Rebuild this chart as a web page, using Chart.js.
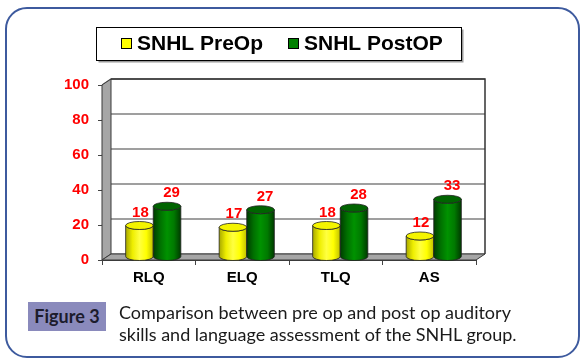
<!DOCTYPE html>
<html>
<head>
<meta charset="utf-8">
<script src="https://cdn.jsdelivr.net/npm/chart.js@4.4.1/dist/chart.umd.min.js"></script>
<style>
  html, body { margin: 0; padding: 0; background: #fff; }
  #wrap { position: relative; width: 587px; height: 363px; overflow: hidden; }
  #frame {
    position: absolute; left: 5px; top: 7px; width: 571px; height: 347px;
    border: 2px solid #3d5a9e; border-radius: 22px;
  }
  #chart { position: absolute; left: 0; top: 0; }
  #figLabel {
    position: absolute; left: 28px; top: 302px; width: 78px; height: 29px;
    background: #8a8abc; color: #1c1c2c;
    font: bold 18px Lato, "Open Sans", sans-serif;
    line-height: 29px; text-align: center;
  }
  #caption {
    position: absolute; left: 119px; top: 301px; width: 440px;
    font: 18px Lato, "Open Sans", sans-serif; line-height: 22px; color: #1a1a1a;
  }
</style>
</head>
<body>
<div id="wrap">
  <div id="frame"></div>
  <canvas id="chart" width="587" height="363"></canvas>
  <div id="figLabel">Figure 3</div>
  <div id="caption">Comparison between pre op and post op auditory<br>skills and language assessment of the SNHL group.</div>
</div>
<script>
const categories = ['RLQ', 'ELQ', 'TLQ', 'AS'];
const preOp = [18, 17, 18, 12];
const postOp = [29, 27, 28, 33];
const seriesNames = ['SNHL PreOp', 'SNHL PostOP'];
const yMin = 0;
const yMax = 100;
const yStep = 20;

// depth of the 3d box
const DX = 9, DY = -6;

const seriesStyle = [
  { face: ['#a8a800', '#eeee00', '#ffff40', '#ffff00', '#c0c000'], top: '#f4f400', key: '#ffff00', labelShift: 1 },
  { face: ['#003c00', '#007000', '#009200', '#007a00', '#003a00'], top: '#006400', key: '#008000', labelShift: 4.5 }
];

const room = {
  id: 'room',
  beforeDatasetsDraw(chart) {
    const { ctx, chartArea: a, scales: { y } } = chart;
    ctx.save();
    // back wall
    ctx.fillStyle = '#fff';
    ctx.fillRect(a.left + DX, a.top + DY, a.right - a.left, a.bottom - a.top);
    // grid lines on back wall and left wall
    ctx.strokeStyle = '#808080';
    ctx.lineWidth = 1.5;
    y.ticks.forEach(t => {
      const py = y.getPixelForValue(t.value);
      ctx.beginPath();
      ctx.moveTo(a.left, py);
      ctx.lineTo(a.left + DX, py + DY);
      ctx.lineTo(a.right + DX, py + DY);
      ctx.stroke();
    });
    // left wall
    ctx.fillStyle = '#a6a6a6';
    ctx.strokeStyle = '#3a3a3a';
    ctx.lineWidth = 1;
    ctx.beginPath();
    ctx.moveTo(a.left, a.top);
    ctx.lineTo(a.left + DX, a.top + DY);
    ctx.lineTo(a.left + DX, a.bottom + DY);
    ctx.lineTo(a.left, a.bottom);
    ctx.closePath();
    ctx.fill();
    ctx.stroke();
    // floor
    ctx.beginPath();
    ctx.moveTo(a.left, a.bottom);
    ctx.lineTo(a.left + DX, a.bottom + DY);
    ctx.lineTo(a.right + DX, a.bottom + DY);
    ctx.lineTo(a.right, a.bottom);
    ctx.closePath();
    ctx.fill();
    ctx.stroke();
    // back wall outline (top + right)
    ctx.strokeStyle = '#333';
    ctx.lineWidth = 1.5;
    ctx.beginPath();
    ctx.moveTo(a.left + DX, a.top + DY);
    ctx.lineTo(a.right + DX, a.top + DY);
    ctx.lineTo(a.right + DX, a.bottom + DY);
    ctx.stroke();
    ctx.restore();
  },
  afterDatasetsDraw(chart) {
    const { ctx } = chart;
    ctx.save();
    const metas = chart.data.datasets.map((d, i) => chart.getDatasetMeta(i));
    categories.forEach((c, k) => {
      metas.forEach((meta, i) => {
        const bar = meta.data[k];
        const st = seriesStyle[i];
        const cx = bar.x + DX / 2;
        const rx = bar.width / 2;
        const ry = 4;
        const top = bar.y + DY / 2;
        const bot = bar.base + DY / 2;
        const g = ctx.createLinearGradient(cx - rx, 0, cx + rx, 0);
        st.face.forEach((col, j) => g.addColorStop(j / (st.face.length - 1), col));
        ctx.beginPath();
        ctx.moveTo(cx - rx, top);
        ctx.lineTo(cx - rx, bot);
        ctx.ellipse(cx, bot, rx, ry, 0, Math.PI, 0, true);
        ctx.lineTo(cx + rx, top);
        ctx.ellipse(cx, top, rx, ry, 0, 0, Math.PI, false);
        ctx.closePath();
        ctx.fillStyle = g;
        ctx.fill();
        ctx.strokeStyle = '#222';
        ctx.lineWidth = 0.8;
        ctx.stroke();
        ctx.beginPath();
        ctx.ellipse(cx, top, rx, ry, 0, 0, Math.PI * 2);
        ctx.fillStyle = st.top;
        ctx.fill();
        ctx.stroke();
        // value label
        ctx.fillStyle = '#ff0000';
        ctx.font = 'bold 15px Arial, "Liberation Sans", sans-serif';
        ctx.textAlign = 'center';
        ctx.textBaseline = 'middle';
        ctx.fillText(String(chart.data.datasets[i].data[k]), cx + st.labelShift, top - 13);
      });
    });
    ctx.restore();
  },
  afterDraw(chart) {
    const { ctx } = chart;
    ctx.save();
    // legend box with shadow
    ctx.fillStyle = '#9a9a9a';
    ctx.fillRect(98.5, 29.5, 365, 33);
    ctx.fillStyle = '#fff';
    ctx.fillRect(96.5, 27.5, 365, 33);
    ctx.strokeStyle = '#000';
    ctx.lineWidth = 1;
    ctx.strokeRect(96.5, 27.5, 365, 33);
    const keyX = [121, 288];
    ctx.font = 'bold 21px Arial, "Liberation Sans", sans-serif';
    ctx.textBaseline = 'alphabetic';
    ctx.textAlign = 'left';
    chart.data.datasets.forEach((d, i) => {
      ctx.fillStyle = seriesStyle[i].key;
      ctx.fillRect(keyX[i] + 0.5, 38.5, 10, 10);
      ctx.strokeStyle = '#000';
      ctx.strokeRect(keyX[i] + 0.5, 38.5, 10, 10);
      ctx.fillStyle = '#000';
      ctx.fillText(d.label, keyX[i] + 16, 50);
    });
    ctx.restore();
  }
};

new Chart(document.getElementById('chart'), {
  type: 'bar',
  data: {
    labels: categories,
    datasets: [
      { label: seriesNames[0], data: preOp, backgroundColor: 'rgba(0,0,0,0)' },
      { label: seriesNames[1], data: postOp, backgroundColor: 'rgba(0,0,0,0)' }
    ]
  },
  options: {
    responsive: false,
    devicePixelRatio: 1,
    animation: false,
    categoryPercentage: 0.59,
    barPercentage: 1.0,
    layout: { padding: { top: 85, right: 111, left: 0, bottom: 0 } },
    plugins: { legend: { display: false }, tooltip: { enabled: false } },
    scales: {
      x: {
        afterFit: s => { s.height = 103; },
        grid: { offset: true, drawOnChartArea: false, tickLength: 5, color: '#444' },
        border: { display: true, color: '#3a3a3a', width: 1 },
        ticks: { color: '#000', padding: 4, font: { family: 'Arial, "Liberation Sans", sans-serif', size: 15, weight: 'bold' } }
      },
      y: {
        min: yMin,
        max: yMax,
        afterFit: s => { s.width = 102; },
        grid: { drawOnChartArea: false, tickLength: 4, color: '#444' },
        border: { display: true, color: '#3a3a3a', width: 1 },
        ticks: { stepSize: yStep, color: '#ff0000', padding: 9, font: { family: 'Arial, "Liberation Sans", sans-serif', size: 15, weight: 'bold' } }
      }
    }
  },
  plugins: [room]
});
</script>
</body>
</html>
